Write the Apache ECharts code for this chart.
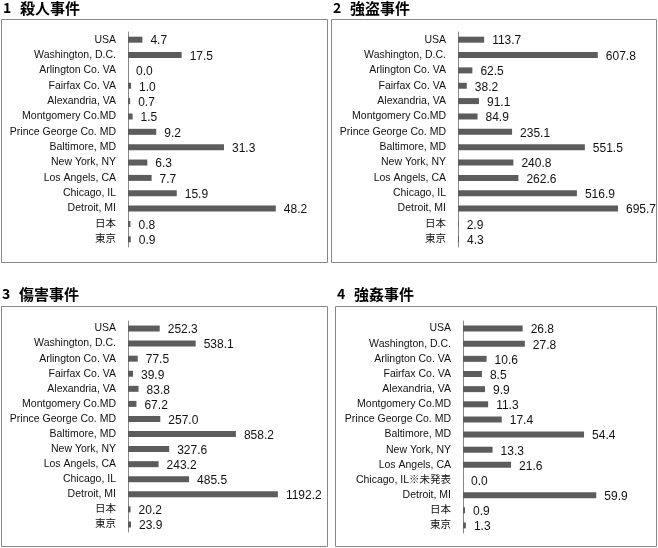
<!DOCTYPE html>
<html><head><meta charset="utf-8">
<script src="https://cdn.jsdelivr.net/npm/echarts@6/dist/echarts.min.js"></script>
<style>html,body{margin:0;padding:0;background:#fff}#c{width:658px;height:548px}</style>
</head><body><div id="c"></div>
<script>
const categories = ["USA","Washington, D.C.","Arlington Co. VA","Fairfax Co. VA","Alexandria, VA","Montgomery Co.MD","Prince George Co. MD","Baltimore, MD","New York, NY","Los Angels, CA","Chicago, IL","Detroit, MI","日本","東京"];
const categories4 = ["USA","Washington, D.C.","Arlington Co. VA","Fairfax Co. VA","Alexandria, VA","Montgomery Co.MD","Prince George Co. MD","Baltimore, MD","New York, NY","Los Angels, CA","Chicago, IL※未発表","Detroit, MI","日本","東京"];
const titleNums = ["1","2","3","4"];
const titles = ["殺人事件","強盗事件","傷害事件","強姦事件"];
const murder = [4.7,17.5,0.0,1.0,0.7,1.5,9.2,31.3,6.3,7.7,15.9,48.2,0.8,0.9];
const robbery = [113.7,607.8,62.5,38.2,91.1,84.9,235.1,551.5,240.8,262.6,516.9,695.7,2.9,4.3];
const assault = [252.3,538.1,77.5,39.9,83.8,67.2,257.0,858.2,327.6,243.2,485.5,1192.2,20.2,23.9];
const rape = [26.8,27.8,10.6,8.5,9.9,11.3,17.4,54.4,13.3,21.6,0.0,59.9,0.9,1.3];
const axisMax = [60,800,1400,80];

const panels = [
  {data:murder, cats:categories, grid:{left:128,top:32,width:184,height:215}, box:[1,19,326,243], title:[3,8]},
  {data:robbery, cats:categories, grid:{left:458,top:32,width:184,height:215}, box:[331,19,325,243], title:[333,8]},
  {data:assault, cats:categories, grid:{left:128,top:321,width:176,height:211}, box:[1,306,326,240], title:[2,294]},
  {data:rape, cats:categories4, grid:{left:463,top:321,width:178,height:212}, box:[335,306,321,240], title:[337,294]}
];
const font = "'Liberation Sans', Arial, 'Noto Sans CJK JP', sans-serif";
const option = {
  animation:false,
  backgroundColor:'#fff',
  grid: panels.map(p=>Object.assign({containLabel:false}, p.grid)),
  xAxis: panels.map((p,i)=>({gridIndex:i,type:'value',min:0,max:axisMax[i],show:false})),
  yAxis: panels.map((p,i)=>({gridIndex:i,type:'category',data:p.cats,inverse:true,
    axisLine:{show:true,lineStyle:{color:'#888',width:1}},axisTick:{show:false},
    axisLabel:{color:'#111',fontSize:10.5,fontFamily:font,margin:12}})),
  series: panels.map((p,i)=>({type:'bar',xAxisIndex:i,yAxisIndex:i,data:p.data,barWidth:6,
    itemStyle:{color:'#5c5c5c'},
    label:{show:true,position:'right',distance:8,offset:[0,1.5],color:'#111',fontSize:12,fontFamily:font,
      formatter:(d)=>d.value.toFixed(1)}})),
  graphic: panels.flatMap((p,i)=>[
    {type:'rect',shape:{x:p.box[0]+0.5,y:p.box[1]+0.5,width:p.box[2],height:p.box[3]},
      style:{fill:null,stroke:'#888',lineWidth:1},silent:true},
    {type:'text',x:p.title[0],y:p.title[1],style:{text:titleNums[i],fill:'#000',
      font:"bold 14px 'Noto Sans CJK JP', sans-serif",textVerticalAlign:'middle'}},
    {type:'text',x:p.title[0]+17,y:p.title[1],style:{text:titles[i],fill:'#000',
      font:"bold 15px 'Noto Sans CJK JP', sans-serif",textVerticalAlign:'middle'}}
  ])
};
echarts.init(document.getElementById('c')).setOption(option);
</script></body></html>
